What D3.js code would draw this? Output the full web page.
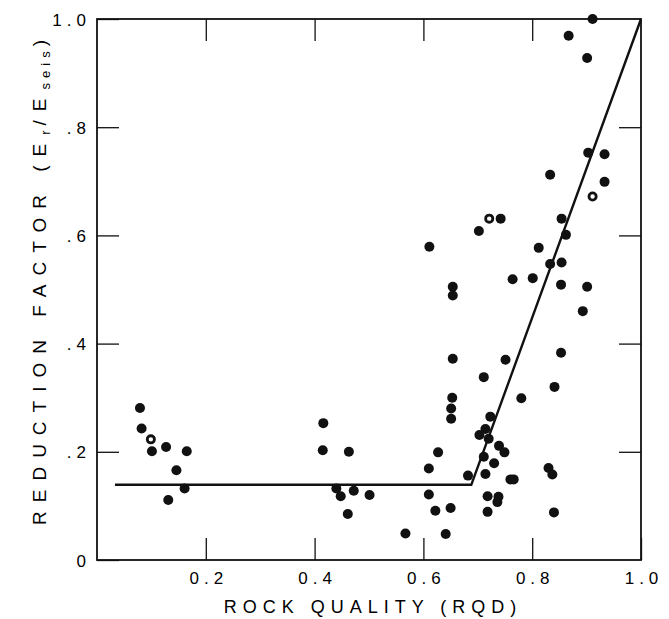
<!DOCTYPE html>
<html>
<head>
<meta charset="utf-8">
<script src="https://cdn.jsdelivr.net/npm/d3@7"></script>
<style>
  body { margin: 0; background: #fff; }
  text { font-family: "Liberation Sans", Arial, sans-serif; fill: #000; }
</style>
</head>
<body>
<div id="chart"></div>
<script>

// rock quality (RQD) and reduction factor, filled symbols
var rqd = [
  0.079, 0.082, 0.101, 0.127, 0.165, 0.146, 0.161, 0.131,
  0.416, 0.415, 0.463, 0.440, 0.448, 0.472, 0.501, 0.461, 0.567,
  0.611, 0.702, 0.742, 0.654, 0.654, 0.764, 0.801, 0.812, 0.833,
  0.854, 0.862, 0.833, 0.854, 0.853, 0.893, 0.901, 0.903, 0.933, 0.933,
  0.911, 0.867, 0.901,
  0.654, 0.751, 0.711, 0.853, 0.841, 0.780, 0.653, 0.651, 0.651,
  0.723, 0.714, 0.703, 0.720, 0.739, 0.749, 0.711, 0.730, 0.627,
  0.610, 0.714, 0.682, 0.760, 0.766, 0.830, 0.837,
  0.610, 0.622, 0.650, 0.641, 0.718, 0.738, 0.736, 0.718, 0.840
];
var factor = [
  0.281, 0.243, 0.201, 0.209, 0.201, 0.166, 0.132, 0.111,
  0.253, 0.203, 0.200, 0.132, 0.118, 0.128, 0.120, 0.085, 0.049,
  0.579, 0.608, 0.631, 0.505, 0.489, 0.519, 0.521, 0.577, 0.712,
  0.631, 0.601, 0.547, 0.550, 0.509, 0.460, 0.505, 0.753, 0.750, 0.699,
  1.000, 0.969, 0.928,
  0.372, 0.370, 0.338, 0.383, 0.320, 0.299, 0.300, 0.280, 0.261,
  0.265, 0.242, 0.231, 0.224, 0.211, 0.199, 0.191, 0.179, 0.199,
  0.169, 0.159, 0.156, 0.149, 0.149, 0.170, 0.158,
  0.121, 0.091, 0.096, 0.048, 0.118, 0.117, 0.107, 0.089, 0.088
];

// open symbols
var openRqd = [0.099, 0.721, 0.911];
var openFactor = [0.223, 0.631, 0.672];

// fitted line
var fitRqd = [0.033, 0.688, 1.0];
var fitFactor = [0.139, 0.139, 1.0];

var xTicks = [0.2, 0.4, 0.6, 0.8, 1.0];
var yTicks = [0, 0.2, 0.4, 0.6, 0.8, 1.0];

var svgWidth = 669, svgHeight = 619;
var margin = { top: 19, right: 28, bottom: 59, left: 97 };
var width = svgWidth - margin.left - margin.right;
var height = svgHeight - margin.top - margin.bottom;

var svg = d3.select("#chart")
  .append("svg")
  .attr("width", svgWidth)
  .attr("height", svgHeight);

var chartGroup = svg.append("g")
  .attr("transform", `translate(${margin.left}, ${margin.top})`);

var x = d3.scaleLinear().domain([0, 1]).range([0, width]);
var y = d3.scaleLinear().domain([0, 1]).range([height, 0]);

// ticks point inward on all four sides
var tickLen = 22;

var xAxis = d3.axisBottom(x).tickValues(xTicks).tickSize(-tickLen).tickPadding(12)
  .tickFormat(d3.format(".1f"));
var yAxis = d3.axisLeft(y).tickValues(yTicks).tickSize(-tickLen).tickPadding(6)
  .tickFormat(function(d) {
    if (d === 0) return "0";
    if (d === 1) return "1.0";
    return "." + Math.round(d * 10);
  });

var gx = chartGroup.append("g")
  .attr("transform", `translate(0, ${height})`)
  .call(xAxis);
var gy = chartGroup.append("g").call(yAxis);

chartGroup.append("g")
  .call(d3.axisTop(x).tickValues([0.2, 0.4, 0.6, 0.8]).tickSize(-tickLen).tickFormat(""));
chartGroup.append("g")
  .attr("transform", `translate(${width}, 0)`)
  .call(d3.axisRight(y).tickValues([0.2, 0.4, 0.6, 0.8]).tickSize(-tickLen).tickFormat(""));

chartGroup.selectAll(".domain").remove();
chartGroup.selectAll(".tick line").attr("stroke", "#111").attr("stroke-width", 1.3);

gx.selectAll("text")
  .style("font-size", "17px")
  .style("letter-spacing", "5px")
  .attr("dx", "2.5px");
gy.selectAll("text")
  .style("font-size", "17px")
  .style("letter-spacing", "5px")
  .attr("dy", "0.36em");

// frame
chartGroup.append("rect")
  .attr("x", x(0))
  .attr("y", y(1))
  .attr("width", x(1) - x(0))
  .attr("height", y(0) - y(1))
  .attr("fill", "none")
  .attr("stroke", "#111")
  .attr("stroke-width", 1.8);

// fitted line
var line = d3.line()
  .x(function(d, i) { return x(fitRqd[i]); })
  .y(function(d, i) { return y(fitFactor[i]); });

chartGroup.append("path")
  .datum(fitRqd)
  .attr("d", line)
  .attr("fill", "none")
  .attr("stroke", "#111")
  .attr("stroke-width", 2.4);

// points
chartGroup.selectAll("circle.pt")
  .data(rqd)
  .enter()
  .append("circle")
  .attr("class", "pt")
  .attr("cx", function(d) { return x(d); })
  .attr("cy", function(d, i) { return y(factor[i]); })
  .attr("r", 5)
  .attr("fill", "#111");

chartGroup.selectAll("circle.open")
  .data(openRqd)
  .enter()
  .append("circle")
  .attr("class", "open")
  .attr("cx", function(d) { return x(d); })
  .attr("cy", function(d, i) { return y(openFactor[i]); })
  .attr("r", 3.6)
  .attr("fill", "#fff")
  .attr("stroke", "#111")
  .attr("stroke-width", 2.8);

// axis titles
svg.append("text")
  .attr("x", margin.left + width / 2 + 4)
  .attr("y", 613)
  .style("text-anchor", "middle")
  .style("font-size", "18px")
  .style("letter-spacing", "6px")
  .text("ROCK QUALITY (RQD)");

var ytitle = svg.append("text")
  .attr("transform", "translate(46, 278) rotate(-90)")
  .style("text-anchor", "middle")
  .style("font-size", "19px")
  .style("letter-spacing", "9px");
ytitle.append("tspan").text("REDUCTION FACTOR (E");
ytitle.append("tspan").attr("dy", 4).style("font-size", "13px").style("letter-spacing", "5px").text("r");
ytitle.append("tspan").attr("dy", -4).text("/E");
ytitle.append("tspan").attr("dy", 4).style("font-size", "13px").style("letter-spacing", "5px").text("seis");
ytitle.append("tspan").attr("dy", -4).text(")");

</script>
</body>
</html>
